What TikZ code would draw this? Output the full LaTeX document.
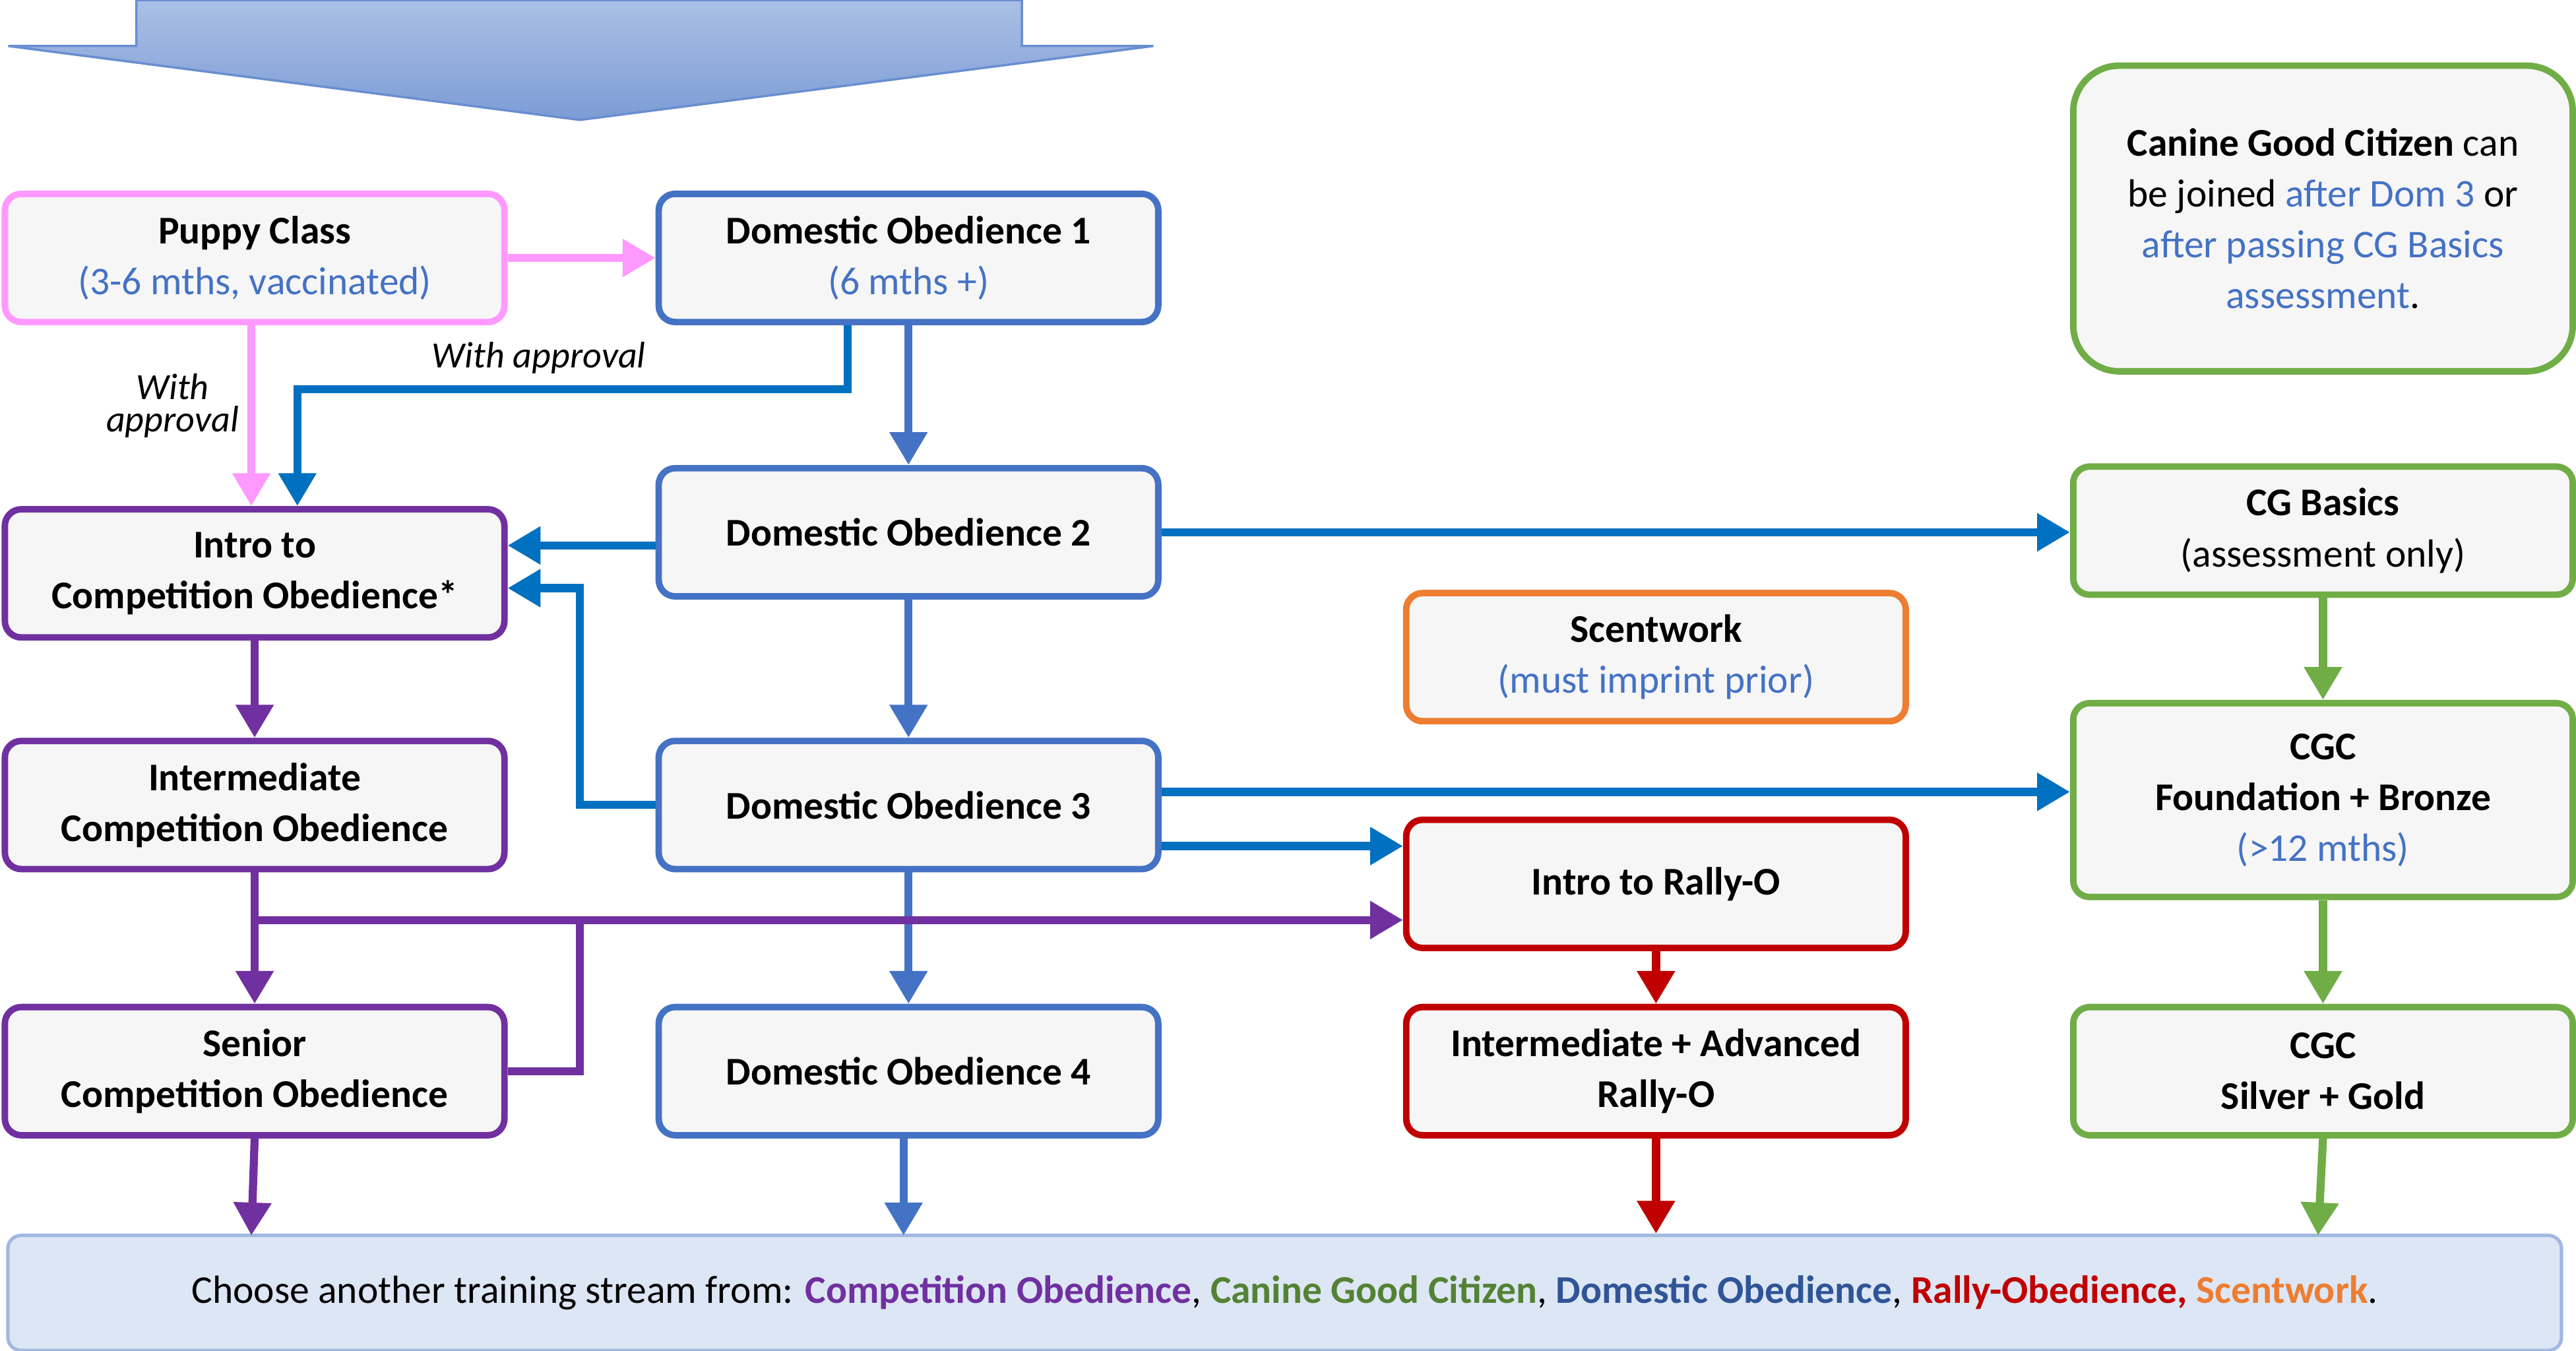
\documentclass[tikz,border=0pt]{standalone}
\usepackage{fontspec}
\setmainfont{Carlito}
\usetikzlibrary{arrows.meta}
\definecolor{pinkc}{HTML}{FF99FF}
\definecolor{domc}{HTML}{4472C4}
\definecolor{linkc}{HTML}{0070C0}
\definecolor{compc}{HTML}{7030A0}
\definecolor{scentc}{HTML}{ED7D31}
\definecolor{cgcc}{HTML}{70AD47}
\definecolor{cgct}{HTML}{548235}
\definecolor{rallyc}{HTML}{C00000}
\definecolor{domt}{HTML}{2F5597}
\definecolor{boxfill}{HTML}{F6F6F6}
\tikzstyle{stage} = [draw, line width=2.8pt, rounded corners=0.25cm, fill=boxfill,
  minimum width=7.6cm, minimum height=1.95cm, align=center,
  font=\fontsize{17}{22}\selectfont\bfseries]
\tikzstyle{flow} = [line width=3.5pt, -{Triangle[length=0.5cm,width=0.55cm]}]
\tikzstyle{note} = [font=\fontsize{16}{14}\selectfont\itshape, align=center]
\newcommand{\sub}[1]{\\{\mdseries\color{domc}#1}}

\begin{document}
\begin{tikzpicture}[x=0.025cm, y=-0.025cm]
	\useasboundingbox (0,0) rectangle (1568,822);
	% big arrow at top
	\shade[top color=domc!45, bottom color=domc!70, draw=domc!80, line width=1pt]
		(83,0) -- (622,0) -- (622,28) -- (702,28) -- (353,73) -- (5,28) -- (83,28) -- cycle;
	% stages
	\node [stage, draw=pinkc] (pup) at (155,157) {Puppy Class\sub{(3-6 mths, vaccinated)}};
	\node [stage, draw=domc] (dom1) at (553,157) {Domestic Obedience 1\sub{(6 mths +)}};
	\node [stage, draw=compc] (icomp) at (155,349) {Intro to\\Competition Obedience*};
	\node [stage, draw=domc] (dom2) at (553,324) {Domestic Obedience 2};
	\node [stage, draw=scentc] (scent) at (1008,400) {Scentwork\sub{(must imprint prior)}};
	\node [stage, draw=cgcc] (cgb) at (1414,323) {CG Basics\\{\mdseries (assessment only)}};
	\node [stage, draw=cgcc, rounded corners=0.7cm, minimum height=4.65cm, font=\fontsize{17}{22}\selectfont] (cgn) at (1414,133)
		{\textbf{Canine Good Citizen} can\\be joined {\color{domc}after Dom 3} or\\{\color{domc}after passing CG Basics}\\{\color{domc}assessment}.};
	\node [stage, draw=compc] (mcomp) at (155,490) {Intermediate\\Competition Obedience};
	\node [stage, draw=domc] (dom3) at (553,490) {Domestic Obedience 3};
	\node [stage, draw=cgcc, minimum height=2.95cm] (cgfb) at (1414,487) {CGC\\Foundation + Bronze\sub{(>12 mths)}};
	\node [stage, draw=rallyc] (rint) at (1008,538) {Intro to Rally-O};
	\node [stage, draw=compc] (scomp) at (155,652) {Senior\\Competition Obedience};
	\node [stage, draw=domc] (dom4) at (553,652) {Domestic Obedience 4};
	\node [stage, draw=rallyc] (radv) at (1008,652) {Intermediate + Advanced\\Rally-O};
	\node [stage, draw=cgcc] (cgsg) at (1414,652) {CGC\\Silver + Gold};
	% bottom bar
	\node [draw=domc!50, fill=domc!18, line width=1.5pt, rounded corners=0.2cm,
		minimum width=38.85cm, minimum height=1.75cm, font=\fontsize{17}{22}\selectfont] (bar) at (782,787)
		{Choose another training stream from: \textbf{\color{compc}Competition Obedience}, \textbf{\color{cgct}Canine Good Citizen}, \textbf{\color{domt}Domestic Obedience}, \textbf{\color{rallyc}Rally-Obedience,} \textbf{\color{scentc}Scentwork}.};
	% connectors
	\coordinate (d1a) at (516,237);
	\coordinate (d3a) at (353,490);
	\coordinate (mja) at (155,560);
	\coordinate (sna) at (353,652);
	\draw [flow, pinkc] (pup) -- (dom1);
	\draw [flow, pinkc] (pup.south -| 153,0) -- (icomp.north -| 153,0);
	\node [note] (wa1) at (105,247) {With\\approval};
	\draw [flow, linkc] (dom1.south -| d1a) -- (d1a) -- (181,237) -- (icomp.north -| 181,0);
	\node [note] (wa2) at (328,218) {With approval};
	\draw [flow, domc] (dom1) -- (dom2);
	\draw [flow, domc] (dom2) -- (dom3);
	\draw [flow, domc] (dom3) -- (dom4);
	\draw [flow, linkc] (dom2.west |- 0,332) -- (icomp.east |- 0,332);
	\draw [flow, linkc] (dom2) -- (cgb.west |- dom2);
	\draw [flow, linkc] (dom3) -- (d3a) -- (353,358) -- (icomp.east |- 0,358);
	\draw [flow, linkc] (dom3.east |- 0,482) -- (cgfb.west |- 0,482);
	\draw [flow, linkc] (dom3.east |- 0,515) -- (rint.west |- 0,515);
	\draw [flow, compc] (icomp) -- (mcomp);
	\draw [flow, compc] (mcomp) -- (scomp);
	\draw [flow, compc] (mja) -- (rint.west |- mja);
	\draw [line width=3.5pt, compc] (scomp) -- (sna) -- (353,560);
	\draw [flow, rallyc] (rint) -- (radv);
	\draw [flow, cgcc] (cgb) -- (cgfb);
	\draw [flow, cgcc] (cgfb) -- (cgsg);
	\draw [flow, compc] (scomp.south) -- (153,752);
	\draw [flow, domc] (dom4.south -| 550,0) -- (550,752);
	\draw [flow, rallyc] (radv) -- (radv |- bar.north);
	\draw [flow, cgcc] (cgsg.south) -- (1411,752);
\end{tikzpicture}
\end{document}
